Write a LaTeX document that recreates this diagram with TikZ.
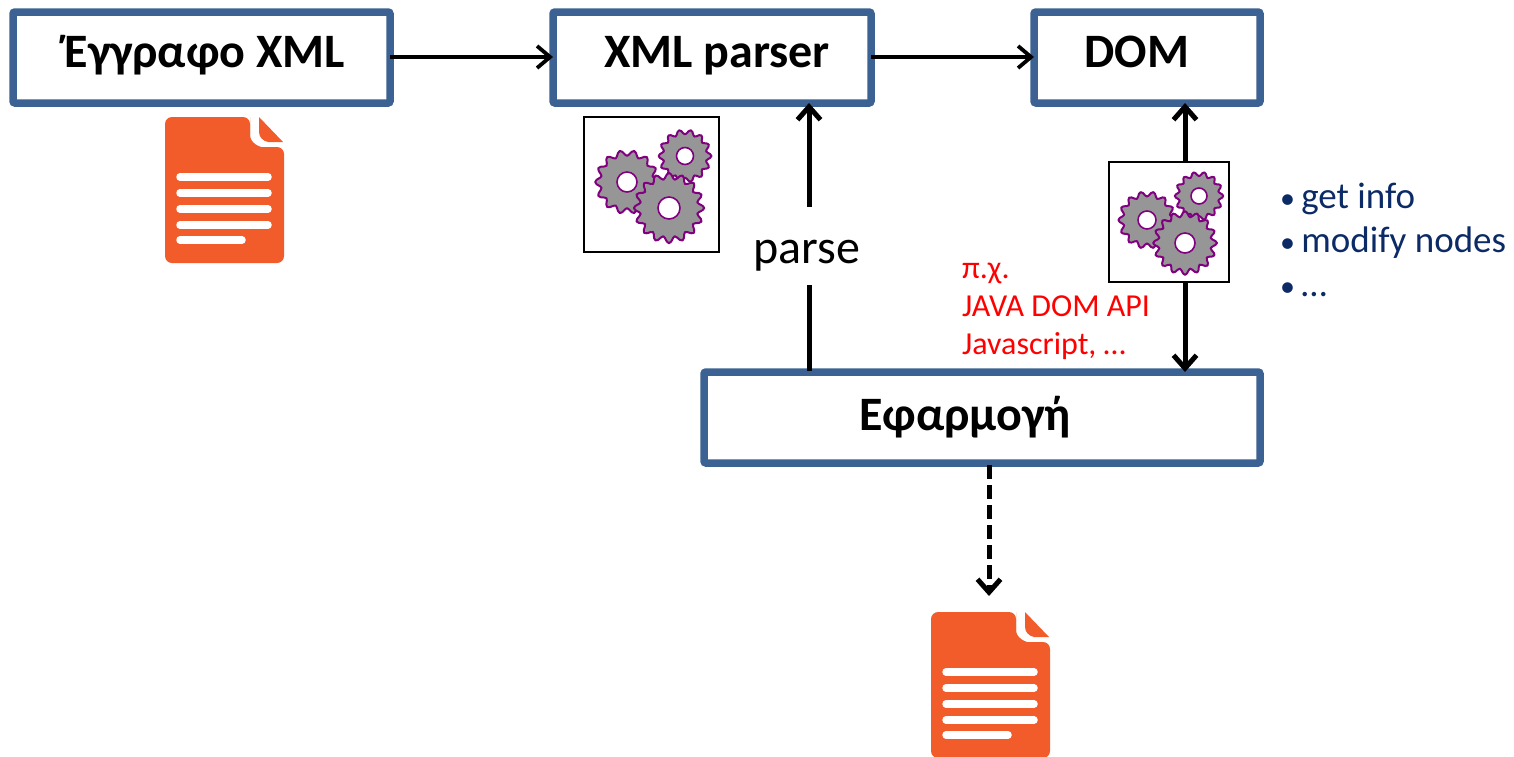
\documentclass[tikz,border=0pt]{standalone}
\usepackage{fontspec}
\setmainfont{Carlito}
\usetikzlibrary{arrows.meta}
\definecolor{boxblue}{HTML}{3B6292}
\definecolor{docorange}{HTML}{F25C2A}
\definecolor{gearpurple}{HTML}{800080}
\definecolor{geargray}{HTML}{969696}
\definecolor{navy}{HTML}{0B2A66}
\tikzset{
  x=1pt,y=-1pt,
  procbox/.style={draw=boxblue,line width=7.5pt,fill=white,rounded corners=2pt,inner sep=0pt,outer sep=0pt,anchor=north west},
  titletext/.style={font=\fontsize{48}{52}\selectfont\bfseries,inner sep=0pt,anchor=base},
  flow/.style={line width=3.8pt,-{Straight Barb[length=13pt,width=22pt,line width=3.8pt]}},
  flowthick/.style={line width=5pt,-{Straight Barb[length=13pt,width=23pt,line width=5pt]}},
  flowboth/.style={line width=5pt,{Straight Barb[length=13pt,width=23pt,line width=5pt]}-{Straight Barb[length=13pt,width=23pt,line width=5pt]}},
  gearbox/.style={draw=black,line width=2.6pt,fill=white,inner sep=0pt,outer sep=0pt,anchor=north west},
  docline/.style={draw=white,line width=7.5pt,line cap=round},
  gearshape/.style={draw=gearpurple,line width=2pt,fill=geargray,line join=round},
  gearhole/.style={draw=gearpurple,line width=1.6pt,fill=white},
}
% cx cy R teeth hole
\newcommand{\cog}[5]{%
  \draw[gearshape] plot[smooth,domain=0:360,samples=#4*6+1] ({#1+(#3+0.1*#3*cos(#4*\x))*cos(\x)},{#2+(#3+0.1*#3*cos(#4*\x))*sin(\x)}) -- cycle;
  \draw[gearhole] (#1,#2) circle[radius=#5];
}
\newcommand{\docicon}{%
  \fill[docorange,rounded corners=7pt] (165,117) -- (250,117) -- (250,147) -- (284,147) -- (284,263) -- (165,263) -- cycle;
  \fill[docorange] (250,117) -- (250,135) .. controls (250,142) and (258,148) .. (268,148) -- (250,148) -- cycle;
  \fill[docorange] (259,117) -- (283,142) -- (268,142) .. controls (263,141) and (259,137) .. (259,132) -- cycle;
  \draw[docline] (180,177) -- (268,177);
  \draw[docline] (180,193) -- (268,193);
  \draw[docline] (180,209) -- (268,209);
  \draw[docline] (180,225) -- (268,225);
  \draw[docline] (180,240) -- (242,240);
}
\newcommand{\bul}{{\fontsize{30}{44}\selectfont•}\,}
\begin{document}
\begin{tikzpicture}
\useasboundingbox (0,0) rectangle (1514,756);
% boxes
\node[procbox,minimum width=377pt,minimum height=91pt] (xmldoc) at (13,12) {};
\node[procbox,minimum width=318pt,minimum height=91pt] (parser) at (553,12) {};
\node[procbox,minimum width=226pt,minimum height=91pt] (dom) at (1034,12) {};
\node[procbox,minimum width=556pt,minimum height=91pt] (app) at (704,372) {};
\node[titletext] (t1) at (205,67) {Έγγραφο XML};
\node[titletext] (t2) at (717,67) {XML parser};
\node[titletext] (t3) at (1137,67) {DOM};
\node[titletext] (t4) at (965,430) {Εφαρμογή};
% connector guides
\coordinate (px) at (809,0);
\coordinate (dx) at (1185,0);
\coordinate (ax) at (989,0);
\coordinate (dashend) at (989,596);
% connectors
\draw[flow] (xmldoc.east |- 0,57) -- (parser.west |- 0,57);
\draw[flow] (parser.east |- 0,57) -- (dom.west |- 0,57);
\draw[flowthick] (app.north -| px) ++(0,-1) -- (parser.south -| px);
\draw[flowboth] (dom.south -| dx) -- (app.north -| dx);
\draw[flowthick,dash pattern=on 14pt off 6pt] (app.south -| ax) ++(0,2) -- (dashend);
% parse label
\node[fill=white,font=\fontsize{48}{52}\selectfont,inner sep=0pt,text height=56pt,text depth=22pt] (parse) at (807,246) {parse};
% gear boxes
\node[gearbox,minimum width=135pt,minimum height=135pt] (g1) at (584,117) {};
\node[gearbox,minimum width=120pt,minimum height=120pt] (g2) at (1109,162) {};
\cog{627}{182}{29}{14}{10}
\cog{685}{156}{24}{14}{8.5}
\cog{669}{208}{32}{16}{11}
\cog{1147}{220}{26}{14}{9}
\cog{1199}{196}{22}{14}{8}
\cog{1185}{243}{29}{16}{10}
% documents
\docicon
\begin{scope}[shift={(766,495)}]
\docicon
\end{scope}
% texts
\node[font=\fontsize{32}{38}\selectfont,text=red,align=left,inner sep=0pt,anchor=base west] (ex) at (962,354) {π.χ.\\JAVA DOM API\\Javascript, …};
\node[font=\fontsize{37}{44}\selectfont,text=navy,align=left,inner sep=0pt,anchor=base west] (ops) at (1280,296) {\bul get info\\\bul modify nodes\\\bul …};
\end{tikzpicture}
\end{document}
